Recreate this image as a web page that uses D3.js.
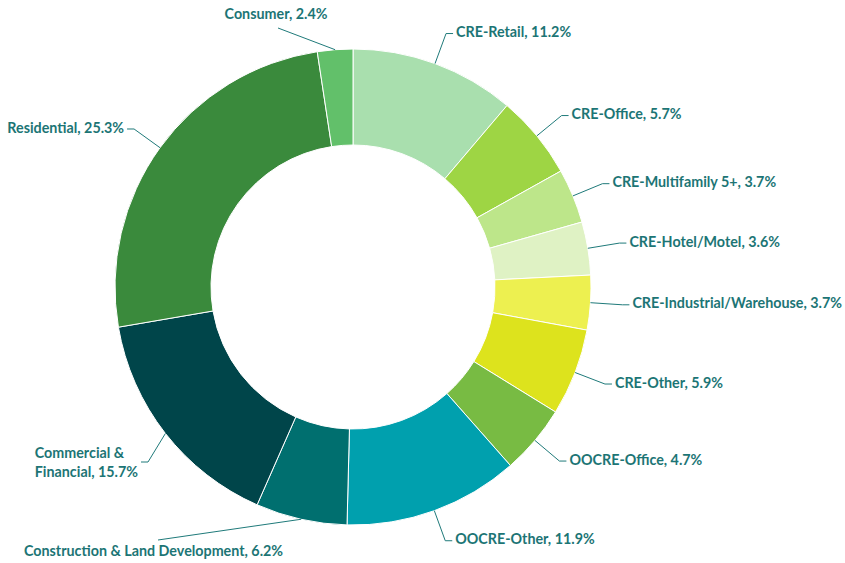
<!DOCTYPE html>
<html><head><meta charset="utf-8">
<script src="https://cdn.jsdelivr.net/npm/d3@7"></script>
<style>
html,body{margin:0;padding:0;background:#fff;}
svg{display:block;}
text{font-family:Lato,"Open Sans",sans-serif;font-weight:700;fill:#1c7575;font-size:14.3px;}
</style></head>
<body>
<svg id="chart" width="845" height="563"></svg>
<script>
// ---- data ----
const categories = ["CRE-Retail","CRE-Office","CRE-Multifamily 5+","CRE-Hotel/Motel","CRE-Industrial/Warehouse","CRE-Other","OOCRE-Office","OOCRE-Other","Construction & Land Development","Commercial & Financial","Residential","Consumer"];
const values = [11.2,5.7,3.7,3.6,3.7,5.9,4.7,11.9,6.2,15.7,25.3,2.4];
const colors = ["#a9dfae","#9ed544","#bde68a","#dff2c4","#edf050","#dde31d","#78bb43","#00a0ae","#006f6f","#00454a","#3a8a3c","#62c06a"];

// ---- layout ----
const cx = 353, cy = 287, R = 238, r = 142, labelR = 270, stub = 7;
const lineColor = "#1f7a7a";
const svg = d3.select("#chart");
const g = svg.append("g").attr("transform", `translate(${cx},${cy})`);

const data = categories.map((c,i)=>({name:c, value:values[i], color:colors[i]}));
const pie = d3.pie().value(d=>d.value).sort(null);
const arcs = pie(data);
const arc = d3.arc().innerRadius(r).outerRadius(R);

g.selectAll("path.slice").data(arcs).join("path")
  .attr("class","slice")
  .attr("d", arc)
  .attr("fill", d=>d.data.color)
  .attr("stroke","#fff").attr("stroke-width",1);

const fmt = d=> `${d.data.name}, ${d3.format(".1f")(d.data.value)}%`;
function pt(a, rad){ return [rad*Math.sin(a), -rad*Math.cos(a)]; }

const lg = g.append("g");
arcs.forEach(d=>{
  const mid = (d.startAngle+d.endAngle)/2;
  const p0 = pt(mid, R);
  const name = d.data.name;
  if (name === "Consumer") {
    const e = [278-cx, 28-cy];
    lg.append("polyline").attr("points",[p0,e].map(p=>p.join(",")).join(" "))
      .attr("fill","none").attr("stroke",lineColor).attr("stroke-width",1);
    lg.append("text").attr("x", e[0]-2).attr("y", e[1]-13).attr("text-anchor","middle")
      .attr("dominant-baseline","middle").text(fmt(d));
    return;
  }
  if (name === "Construction & Land Development") {
    const e = [158-cx, 540-cy];
    lg.append("polyline").attr("points",[p0,e].map(p=>p.join(",")).join(" "))
      .attr("fill","none").attr("stroke",lineColor).attr("stroke-width",1);
    lg.append("text").attr("x", 24-cx).attr("y", 552-cy)
      .attr("dominant-baseline","middle").text(fmt(d));
    return;
  }
  let e = pt(mid, labelR);
  if (name === "Commercial & Financial") e = [148-cx, 462-cy];
  const right = e[0] >= 0;
  const s = [e[0] + (right? stub : -stub), e[1]];
  lg.append("polyline").attr("points",[p0,e,s].map(p=>p.join(",")).join(" "))
    .attr("fill","none").attr("stroke",lineColor).attr("stroke-width",1);
  if (name === "Commercial & Financial") {
    const t = lg.append("text").attr("dominant-baseline","middle");
    const l1 = t.append("tspan").attr("y", s[1]-8).text("Commercial &");
    const l2 = t.append("tspan").attr("y", s[1]+11).text(`Financial, ${d3.format(".1f")(d.data.value)}%`);
    const w = Math.max(l1.node().getComputedTextLength(), l2.node().getComputedTextLength());
    const x0 = s[0] - 3 - w;
    l1.attr("x", x0); l2.attr("x", x0);
    return;
  }
  lg.append("text")
    .attr("x", s[0] + (right? 3 : -3)).attr("y", s[1])
    .attr("text-anchor", right? "start":"end")
    .attr("dominant-baseline","middle")
    .text(fmt(d));
});
</script>
</body></html>
